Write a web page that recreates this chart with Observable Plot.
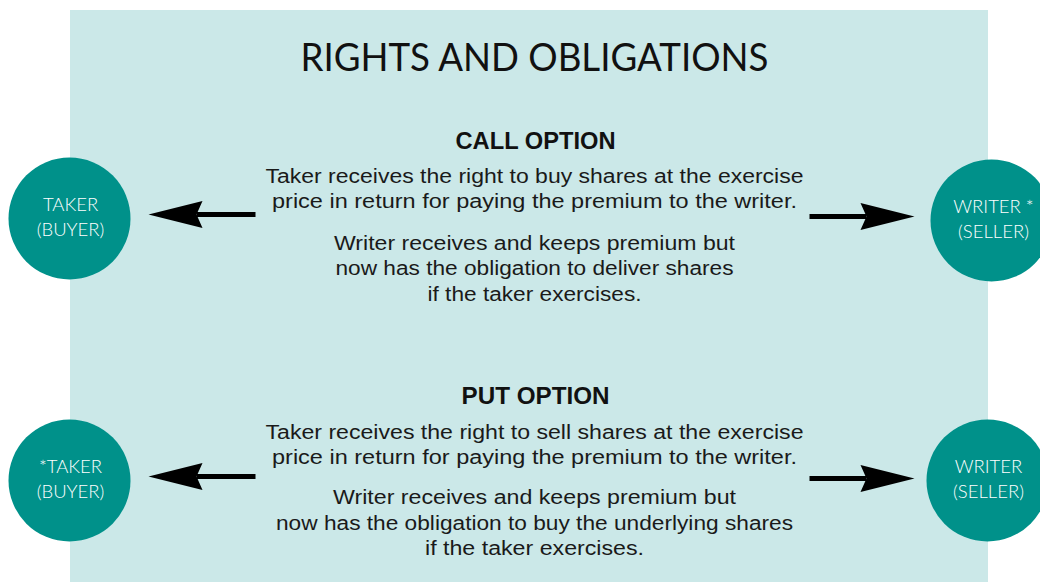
<!DOCTYPE html>
<html>
<head>
<meta charset="utf-8">
<script src="https://cdn.jsdelivr.net/npm/d3@7"></script>
<script src="https://cdn.jsdelivr.net/npm/@observablehq/plot@0.6"></script>
<style>
  html, body { margin: 0; padding: 0; background: #ffffff; }
  #chart svg { display: block; }
</style>
</head>
<body>
<div id="chart"></div>
<script>
// ---- content ----
const title = "RIGHTS AND OBLIGATIONS";
const sectionTitles = ["CALL OPTION", "PUT OPTION"];
const callLines = [
  "Taker receives the right to buy shares at the exercise",
  "price in return for paying the premium to the writer.",
  "Writer receives and keeps premium but",
  "now has the obligation to deliver shares",
  "if the taker exercises."
];
const putLines = [
  "Taker receives the right to sell shares at the exercise",
  "price in return for paying the premium to the writer.",
  "Writer receives and keeps premium but",
  "now has the obligation to buy the underlying shares",
  "if the taker exercises."
];
const nodeLabels = [
  ["TAKER", "(BUYER)"],
  ["WRITER *", "(SELLER)"],
  ["*TAKER", "(BUYER)"],
  ["WRITER", "(SELLER)"]
];
const arrowDirections = ["left", "right", "left", "right"];

// ---- layout (diagram coordinates) ----
const panel = {x1: 70, x2: 988, y1: 10, y2: 582};
const titleY = 58;
const sectionY = [141, 396];
const callLineY = [176, 201, 243, 268, 294];
const putLineY = [432, 457, 497, 523, 548];
const nodeX = [69, 991, 69, 987];
const nodeY = [218, 220, 480, 480];
const arrowStart = [255, 809, 255, 809];
const arrowTip = [148, 914, 148, 914];
const arrowY = [214, 216, 476, 478];

const textWidths = new Map([
  ["RIGHTS AND OBLIGATIONS", 468],
  ["CALL OPTION", 160],
  ["PUT OPTION", 148]
]);
const lineWidths = [[538, 525, 401, 398, 214], [538, 525, 403, 517, 219]];

// ---- build tables ----
const cx = 534;
const bodyRows = [];
callLines.forEach((t, i) => bodyRows.push({x: cx, y: callLineY[i], text: t, w: lineWidths[0][i]}));
putLines.forEach((t, i) => bodyRows.push({x: cx, y: putLineY[i], text: t, w: lineWidths[1][i]}));

const nodes = nodeLabels.map((lab, i) => ({x: nodeX[i], y: nodeY[i], label: lab}));
const nodeTextRows = [];
nodes.forEach((n, i) => {
  nodeTextRows.push({x: n.x + (i === 1 ? 2 : 1), y: n.y - 13, text: n.label[0]});
  nodeTextRows.push({x: n.x + (i === 1 ? 2 : 1), y: n.y + 12, text: n.label[1]});
});

const shafts = arrowDirections.map((d, i) => {
  const s = d === "left" ? -1 : 1;
  return {x1: arrowStart[i], x2: arrowTip[i] - s * 48, y: arrowY[i]};
});
const heads = [];
arrowDirections.forEach((d, i) => {
  const s = d === "left" ? -1 : 1;
  const tip = arrowTip[i], y = arrowY[i];
  const pts = [
    [tip, y],
    [tip - s * 54, y - 13.5],
    [tip - s * 48, y],
    [tip - s * 54, y + 13.5],
    [tip, y]
  ];
  pts.forEach(([px, py]) => heads.push({id: i, x: px, y: py}));
});

const chart = Plot.plot({
  width: 1040,
  height: 582,
  margin: 0,
  x: {domain: [0, 1040], range: [0, 1040], axis: null},
  y: {domain: [0, 582], range: [0, 582], axis: null},
  style: {background: "#ffffff"},
  marks: [
    Plot.rect([panel], {x1: "x1", x2: "x2", y1: "y1", y2: "y2", fill: "#cbe8e8"}),
    Plot.link(shafts, {x1: "x1", x2: "x2", y1: "y", y2: "y", stroke: "#000000", strokeWidth: 5, strokeLinecap: "butt"}),
    Plot.line(heads, {x: "x", y: "y", z: "id", fill: "#000000", stroke: "none", curve: "linear"}),
    Plot.dot(nodes, {x: "x", y: "y", r: 61, fill: "#00918a", stroke: "none"}),
    Plot.text(nodeTextRows, {x: "x", y: "y", text: "text", fill: "#ffffff", fontSize: 18.5, fontFamily: "Lato, 'Liberation Sans', sans-serif", fontWeight: 300}),
    Plot.text([title], {x: cx, y: titleY, text: d => d, fill: "#111111", fontSize: 38, fontFamily: "Lato, 'Liberation Sans', sans-serif", fontWeight: 400}),
    Plot.text(sectionTitles, {x: cx + 1, y: (d, i) => sectionY[i], text: d => d, fill: "#111111", fontSize: 24, fontWeight: "bold", fontFamily: "'Liberation Sans', Arial, sans-serif"}),
    Plot.text(bodyRows, {x: "x", y: "y", text: "text", fill: "#1a1a1a", fontSize: 20, fontFamily: "'Liberation Sans', Arial, sans-serif"})
  ]
});

// fit text widths to the reference layout
const allText = chart.querySelectorAll("text");
const bodyQueue = bodyRows.slice();
allText.forEach(el => {
  const t = el.textContent;
  if (textWidths.has(t)) {
    el.setAttribute("textLength", textWidths.get(t));
    el.setAttribute("lengthAdjust", "spacingAndGlyphs");
  } else {
    const idx = bodyQueue.findIndex(r => r.text === t);
    if (idx >= 0) {
      el.setAttribute("textLength", bodyQueue[idx].w);
      el.setAttribute("lengthAdjust", "spacingAndGlyphs");
      bodyQueue.splice(idx, 1);
    }
  }
});

document.getElementById("chart").appendChild(chart);
</script>
</body>
</html>
